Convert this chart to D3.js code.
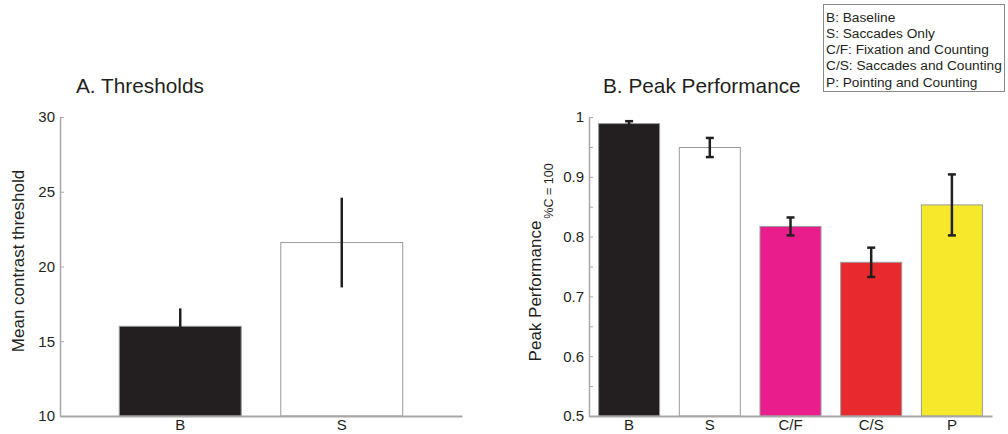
<!DOCTYPE html>
<html>
<head>
<meta charset="utf-8">
<script src="https://cdn.jsdelivr.net/npm/d3@7"></script>
<style>
  body { margin: 0; background: #fff; }
  svg { font-family: "Liberation Sans", Arial, sans-serif; }
</style>
</head>
<body>
<svg width="1008" height="434"></svg>
<script>
// panel A: thresholds
const catsA = ["B", "S"];
const valsA = [16.0, 21.6];
const errA = [1.2, 3.0];
const colorsA = ["#231f20", "#ffffff"];
const ticksA = [10, 15, 20, 25, 30];

// panel B: peak performance
const catsB = ["B", "S", "C/F", "C/S", "P"];
const valsB = [0.989, 0.949, 0.817, 0.757, 0.853];
const errB = [0.004, 0.016, 0.015, 0.0245, 0.051];
const colorsB = ["#231f20", "#ffffff", "#ea1d8d", "#e8292d", "#f6e92c"];
const ticksB = [0.5, 0.55, 0.6, 0.65, 0.7, 0.75, 0.8, 0.85, 0.9, 0.95, 1.0];

const legendItems = [
  "B: Baseline",
  "S: Saccades Only",
  "C/F: Fixation and Counting",
  "C/S: Saccades and Counting",
  "P: Pointing and Counting"
];

const svg = d3.select("svg");
const axisColor = "#a8a8a8";
const inkColor = "#231f20";

function panel(opts) {
  const g = svg.append("g");

  const x = d3.scaleBand()
    .domain(opts.cats)
    .range(opts.xRange)
    .paddingInner(opts.padIn)
    .paddingOuter(opts.padOut);

  const y = d3.scaleLinear()
    .domain(opts.yDomain)
    .range([416, 117]);

  // bars
  g.selectAll(".bar")
    .data(opts.vals)
    .enter().append("rect")
      .attr("x", (d, i) => x(opts.cats[i]))
      .attr("y", d => y(d))
      .attr("width", x.bandwidth())
      .attr("height", d => y(opts.yDomain[0]) - y(d))
      .attr("fill", (d, i) => opts.colors[i])
      .attr("stroke", "#9a9a9a")
      .attr("stroke-width", 1);

  // error bars
  const eb = g.selectAll(".err")
    .data(opts.vals)
    .enter().append("g");
  eb.append("line")
    .attr("x1", (d, i) => x(opts.cats[i]) + x.bandwidth() / 2)
    .attr("x2", (d, i) => x(opts.cats[i]) + x.bandwidth() / 2)
    .attr("y1", (d, i) => y(d - opts.errs[i]))
    .attr("y2", (d, i) => y(d + opts.errs[i]))
    .attr("stroke", inkColor)
    .attr("stroke-width", 2.5);
  if (opts.caps) {
    [-1, 1].forEach(s => {
      eb.append("line")
        .attr("x1", (d, i) => x(opts.cats[i]) + x.bandwidth() / 2 - 4)
        .attr("x2", (d, i) => x(opts.cats[i]) + x.bandwidth() / 2 + 4)
        .attr("y1", (d, i) => y(d + s * opts.errs[i]))
        .attr("y2", (d, i) => y(d + s * opts.errs[i]))
        .attr("stroke", inkColor)
        .attr("stroke-width", 2.5);
    });
  }

  // y axis, ticks pointing inward
  const yAxis = g.append("g")
    .attr("transform", `translate(${opts.xRange[0]},0)`)
    .call(d3.axisLeft(y)
      .tickValues(opts.ticks)
      .tickSizeInner(-4)
      .tickSizeOuter(0)
      .tickPadding(5)
      .tickFormat(opts.fmt));
  yAxis.select(".domain").attr("stroke", axisColor).attr("stroke-width", 1.5);
  yAxis.selectAll(".tick line").attr("stroke", axisColor);
  yAxis.selectAll(".tick text")
    .attr("font-size", 15)
    .attr("fill", "#231f20");

  // x axis
  const xAxis = g.append("g")
    .attr("transform", `translate(0,416)`)
    .call(d3.axisBottom(x).tickSize(0).tickPadding(3));
  xAxis.select(".domain").attr("stroke", axisColor).attr("stroke-width", 2);
  xAxis.selectAll(".tick text")
    .attr("font-size", 15)
    .attr("fill", "#231f20");

  // title
  g.append("text")
    .attr("x", opts.titleX)
    .attr("y", 93)
    .attr("font-size", 20.8)
    .attr("fill", "#231f20")
    .text(opts.title);

  return g;
}

panel({
  cats: catsA, vals: valsA, errs: errA, colors: colorsA,
  xRange: [60, 462], padIn: 0.245, padOut: 0.367,
  yDomain: [10, 30], ticks: ticksA, fmt: d3.format("d"),
  caps: false, title: "A. Thresholds", titleX: 76
});

panel({
  cats: catsB, vals: valsB, errs: errB, colors: colorsB,
  xRange: [589, 992], padIn: 0.244, padOut: 0.119,
  yDomain: [0.5, 1.0], ticks: ticksB,
  fmt: d => (Math.round(d * 100) % 10 === 0 ? d3.format("")(+d.toFixed(1)) : ""),
  caps: true, title: "B. Peak Performance", titleX: 603
});

// y axis labels
svg.append("text")
  .attr("transform", "translate(24,261) rotate(-90)")
  .attr("text-anchor", "middle")
  .attr("font-size", 17)
  .attr("fill", "#231f20")
  .text("Mean contrast threshold");

svg.append("text")
  .attr("transform", "translate(541,291) rotate(-90)")
  .attr("text-anchor", "middle")
  .attr("font-size", 17)
  .attr("fill", "#231f20")
  .text("Peak Performance");

svg.append("text")
  .attr("transform", "translate(553,191) rotate(-90)")
  .attr("text-anchor", "middle")
  .attr("font-size", 12.5)
  .attr("fill", "#231f20")
  .text("%C = 100");

// legend box
const leg = svg.append("g");
leg.append("rect")
  .attr("x", 823.5)
  .attr("y", 4.5)
  .attr("width", 181)
  .attr("height", 87)
  .attr("fill", "#fff")
  .attr("stroke", "#888")
  .attr("stroke-width", 1);
leg.selectAll(".item")
  .data(legendItems)
  .enter().append("text")
    .attr("x", 826)
    .attr("y", (d, i) => 21.5 + i * 16.3)
    .attr("font-size", 13.7)
    .attr("fill", "#231f20")
    .text(d => d);
</script>
</body>
</html>
